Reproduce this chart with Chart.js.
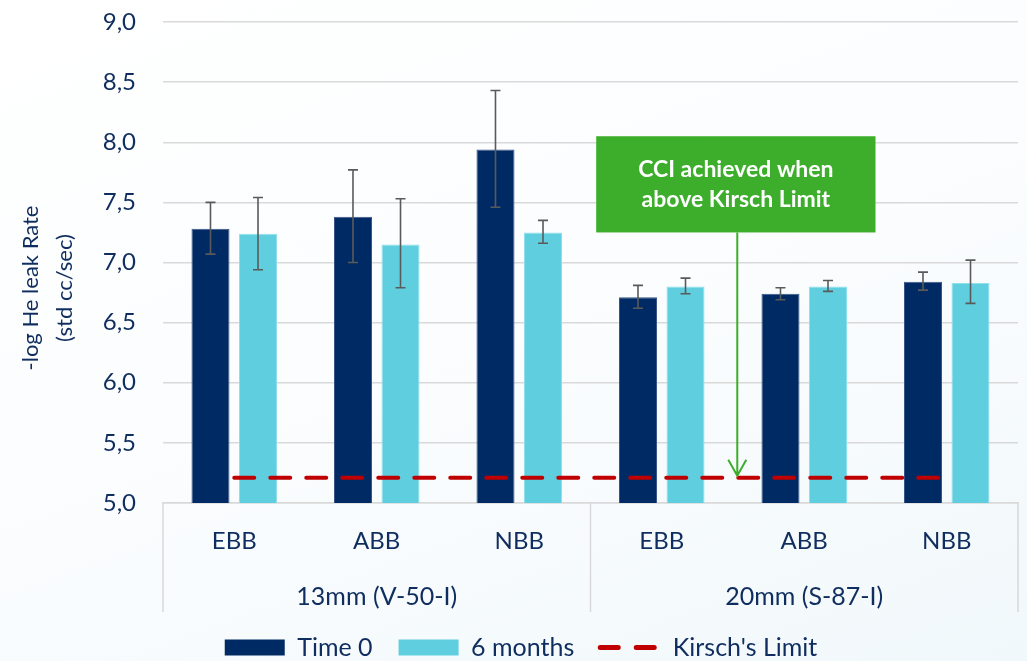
<!DOCTYPE html>
<html>
<head>
<meta charset="utf-8">
<script src="https://cdn.jsdelivr.net/npm/chart.js@4.4.1/dist/chart.umd.min.js"></script>
<style>
  html, body { margin: 0; padding: 0; }
  body { background: linear-gradient(160deg, #ffffff 0%, #fbfdfe 50%, #f1f8fb 100%); }
  #wrap { width: 1027px; height: 661px; position: relative; }
</style>
</head>
<body>
<div id="wrap"><canvas id="leakChart"></canvas></div>
<script>
// values
const categories = ['EBB', 'ABB', 'NBB', 'EBB', 'ABB', 'NBB'];
const groups = ['13mm (V-50-I)', '20mm (S-87-I)'];

const time0 = [7.28, 7.38, 7.94, 6.71, 6.74, 6.84];
const time0High = [7.50, 7.77, 8.43, 6.81, 6.79, 6.92];
const time0Low = [7.07, 7.00, 7.46, 6.62, 6.69, 6.77];

const sixMonths = [7.24, 7.15, 7.25, 6.80, 6.80, 6.83];
const sixMonthsHigh = [7.54, 7.53, 7.35, 6.87, 6.85, 7.02];
const sixMonthsLow = [6.94, 6.79, 7.16, 6.74, 6.76, 6.66];

const kirschLimit = [5.21, 5.21, 5.21, 5.21, 5.21, 5.21];

const yMin = 5.0;
const yMax = 9.0;
const yStep = 0.5;

const yTitle = ['-log He leak Rate', '(std cc/sec)'];
const calloutLines = ['CCI achieved when', 'above Kirsch Limit'];

const navy = '#002a64';
const cyan = '#5fcfe0';
const red = '#c00000';
const green = '#3dae2b';
const textColor = '#0f2d5e';
const gridColor = '#d9d9d9';
const font = 'Lato';

// callout box placement in axis units (category index / y value)
const callout = { left: 2.54, right: 4.5, top: 8.05, bottom: 7.25, arrowAt: 3.53 };

const errorBars = {
    id: 'errorBars',
    afterDatasetsDraw(chart) {
        const ctx = chart.ctx;
        const y = chart.scales.y;
        const sets = [[time0High, time0Low], [sixMonthsHigh, sixMonthsLow]];
        ctx.save();
        ctx.strokeStyle = '#5a5a5a';
        ctx.lineWidth = 1.6;
        sets.forEach(([hi, lo], di) => {
            chart.getDatasetMeta(di).data.forEach((bar, i) => {
                const yt = y.getPixelForValue(hi[i]);
                const yb = y.getPixelForValue(lo[i]);
                ctx.beginPath();
                ctx.moveTo(bar.x, yt); ctx.lineTo(bar.x, yb);
                ctx.moveTo(bar.x - 5, yt); ctx.lineTo(bar.x + 5, yt);
                ctx.moveTo(bar.x - 5, yb); ctx.lineTo(bar.x + 5, yb);
                ctx.stroke();
            });
        });
        ctx.restore();
    }
};

// nudge the legend a bit so it sits like the original
const legendNudge = {
    id: 'legendNudge',
    afterLayout(chart) {
        const lg = chart.legend;
        lg.top -= 3; lg.bottom -= 3;
        lg.left += 12; lg.right += 12;
    }
};

const decorations = {
    id: 'decorations',
    afterDraw(chart) {
        const ctx = chart.ctx;
        const x = chart.scales.x;
        const x2 = chart.scales.x2;
        const y = chart.scales.y;
        const area = chart.chartArea;
        const catW = (x.right - x.left) / categories.length;
        const idx = (v) => x.left + (v + 0.5) * catW;

        // x axis group separators
        ctx.save();
        ctx.strokeStyle = gridColor;
        ctx.lineWidth = 1.5;
        [x.left, x.left + 3 * catW, x.right].forEach((px) => {
            ctx.beginPath();
            ctx.moveTo(px, area.bottom);
            ctx.lineTo(px, x2.bottom);
            ctx.stroke();
        });
        ctx.restore();

        // y axis title
        ctx.save();
        ctx.fillStyle = textColor;
        ctx.font = '22px ' + font;
        ctx.textAlign = 'center';
        ctx.textBaseline = 'middle';
        ctx.translate(0, area.bottom - 0.447 * (area.bottom - area.top));
        ctx.rotate(-Math.PI / 2);
        ctx.fillText(yTitle[0], 0, 31);
        ctx.fillText(yTitle[1], 0, 65);
        ctx.restore();

        // callout box + arrow
        const bl = idx(callout.left), br = idx(callout.right);
        const bt = y.getPixelForValue(callout.top), bb = y.getPixelForValue(callout.bottom);
        const ax = idx(callout.arrowAt);
        const tip = y.getPixelForValue(kirschLimit[0]) - 2;
        ctx.save();
        ctx.strokeStyle = green;
        ctx.lineWidth = 2;
        ctx.beginPath();
        ctx.moveTo(ax, bb); ctx.lineTo(ax, tip);
        ctx.moveTo(ax - 9, tip - 16); ctx.lineTo(ax, tip); ctx.lineTo(ax + 9, tip - 16);
        ctx.stroke();
        ctx.fillStyle = green;
        ctx.fillRect(bl, bt, br - bl, bb - bt);
        ctx.fillStyle = '#ffffff';
        ctx.font = 'bold 23px ' + font;
        ctx.textAlign = 'center';
        ctx.textBaseline = 'middle';
        const cx = (bl + br) / 2, cy = (bt + bb) / 2;
        ctx.fillText(calloutLines[0], cx, cy - 15);
        ctx.fillText(calloutLines[1], cx, cy + 15);
        ctx.restore();
    }
};

new Chart(document.getElementById('leakChart'), {
    type: 'bar',
    data: {
        labels: categories,
        datasets: [
            {
                label: 'Time 0',
                data: time0,
                backgroundColor: navy,
                borderColor: '#3a5686',
                borderWidth: 1,
                categoryPercentage: 0.667,
                barPercentage: 0.8
            },
            {
                label: '6 months',
                data: sixMonths,
                backgroundColor: cyan,
                borderColor: '#8fe0ec',
                borderWidth: 1,
                categoryPercentage: 0.667,
                barPercentage: 0.8
            },
            {
                type: 'line',
                label: "Kirsch's Limit",
                data: kirschLimit,
                borderColor: red,
                backgroundColor: red,
                borderWidth: 4,
                borderDash: [20, 16],
                borderCapStyle: 'round',
                pointRadius: 0,
                order: -1
            }
        ]
    },
    options: {
        responsive: true,
        maintainAspectRatio: false,
        animation: false,
        layout: { padding: { top: 22, right: 9, bottom: -12, left: 0 } },
        plugins: {
            tooltip: { enabled: false },
            legend: {
                position: 'bottom',
                labels: {
                    color: textColor,
                    font: { family: font, size: 25 },
                    usePointStyle: true,
                    pointStyleWidth: 60,
                    boxHeight: 16,
                    padding: 26,
                    sort: (a, b) => a.datasetIndex - b.datasetIndex,
                    generateLabels: (chart) => {
                        const items = Chart.defaults.plugins.legend.labels.generateLabels(chart);
                        items.forEach((it) => {
                            if (it.datasetIndex === 2) {
                                it.pointStyle = 'line';
                                it.lineDash = [18, 18];
                                it.lineCap = 'round';
                                it.lineWidth = 5;
                                it.strokeStyle = red;
                            } else {
                                it.pointStyle = 'rect';
                                it.lineWidth = 0;
                            }
                        });
                        return items;
                    }
                }
            }
        },
        scales: {
            x: {
                offset: true,
                grid: { display: false, drawTicks: false },
                border: { display: true, color: gridColor, width: 1.5 },
                ticks: { color: textColor, font: { family: font, size: 24 }, padding: 24 },
                afterFit: (scale) => { scale.height = 57; }
            },
            x2: {
                type: 'category',
                position: 'bottom',
                labels: groups,
                offset: true,
                grid: { display: false, drawTicks: false },
                border: { display: false },
                ticks: { color: textColor, font: { family: font, size: 25 }, padding: 22 },
                afterFit: (scale) => { scale.height = 52; }
            },
            y: {
                min: yMin,
                max: yMax,
                grid: { color: gridColor, lineWidth: 1.5, drawTicks: true, tickLength: 27, tickColor: 'rgba(0,0,0,0)' },
                border: { display: false },
                ticks: {
                    stepSize: yStep,
                    color: textColor,
                    font: { family: font, size: 24 },
                    padding: 0,
                    callback: (v) => v.toFixed(1).replace('.', ',')
                },
                afterFit: (scale) => { scale.width = 163; }
            }
        }
    },
    plugins: [errorBars, legendNudge, decorations]
});
</script>
</body>
</html>
